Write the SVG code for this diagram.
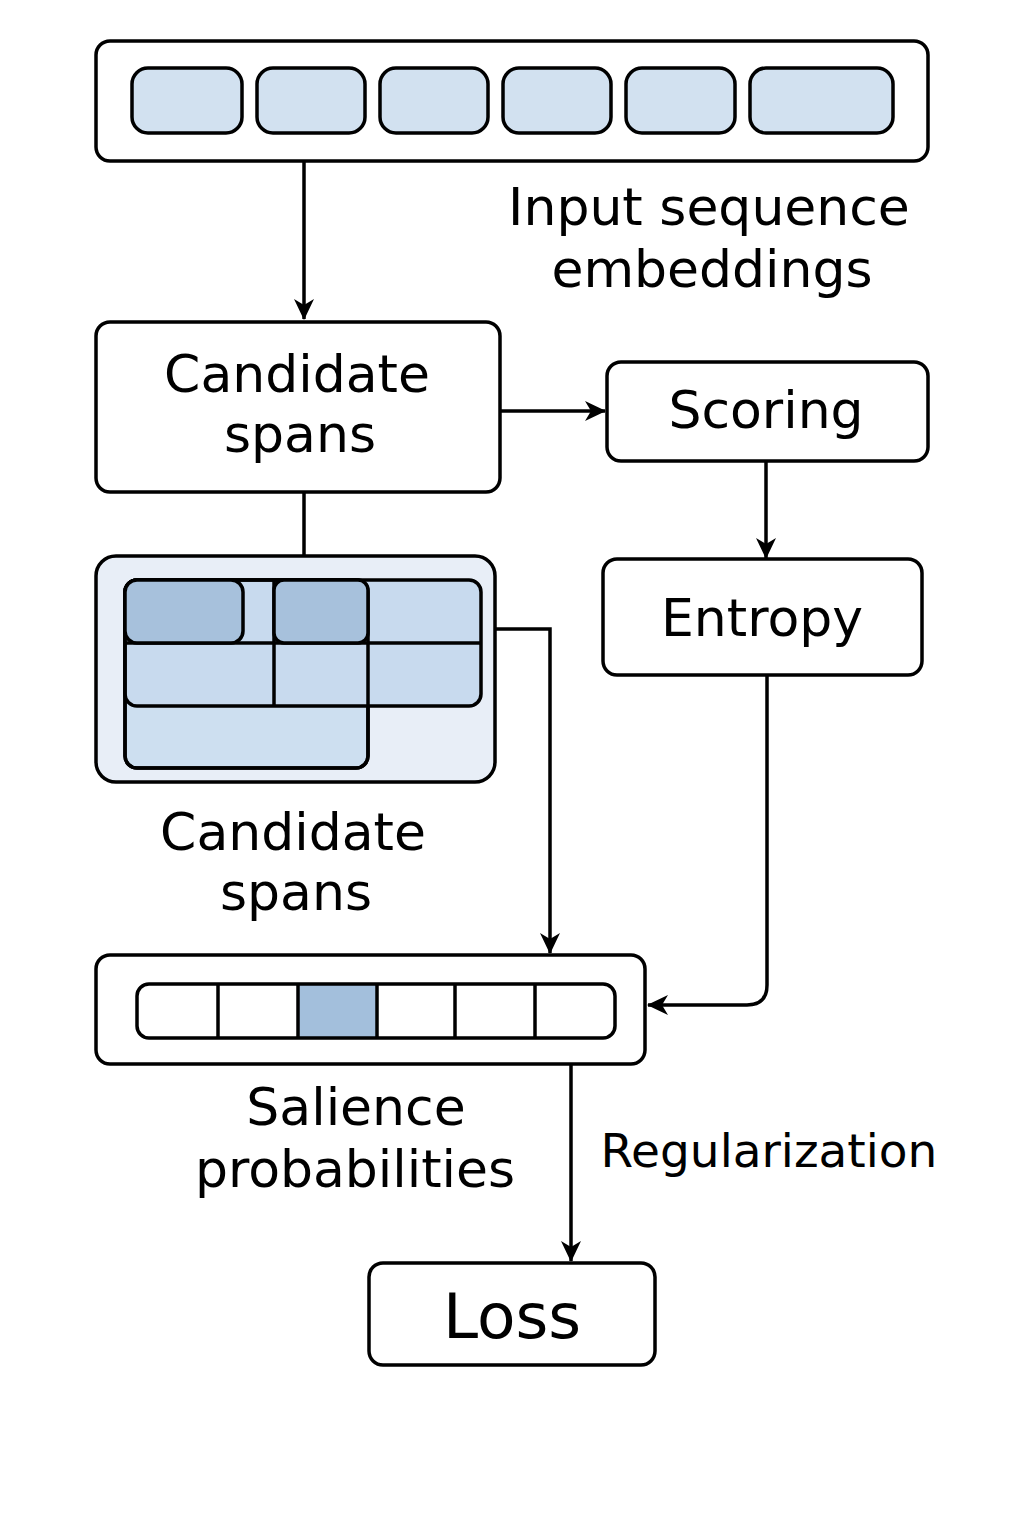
<svg xmlns="http://www.w3.org/2000/svg" width="1024" height="1536" viewBox="0 0 1024 1536">
<defs>
<marker id="ah" markerWidth="22" markerHeight="22" refX="20" refY="11" orient="auto" markerUnits="userSpaceOnUse" viewBox="0 0 22 22">
<path d="M0,1 L21,11 L0,21 L6,11 Z" fill="#000"/>
</marker>
<style>
.box{fill:#fff;stroke:#000;stroke-width:3.5}
.cell{fill:#d2e1f0;stroke:#000;stroke-width:3.5}
.dk{fill:#a7c1dc;stroke:#000;stroke-width:3.5}
.ln{fill:none;stroke:#000;stroke-width:3.5}
.t{font-family:"DejaVu Sans",sans-serif;font-size:52px;fill:#000;text-anchor:middle}
</style>
</defs>
<rect width="1024" height="1536" fill="#fff"/>
<g id="connectors">
<line class="ln" x1="304" y1="161" x2="304" y2="319" marker-end="url(#ah)"/>
<line class="ln" x1="500" y1="411" x2="605" y2="411" marker-end="url(#ah)"/>
<line class="ln" x1="766" y1="461" x2="766" y2="558" marker-end="url(#ah)"/>
<line class="ln" x1="304" y1="492" x2="304" y2="556"/>
<path class="ln" d="M495,629 H550 V953" marker-end="url(#ah)"/>
<path class="ln" d="M767,675 V985 Q767,1005 747,1005 H648" marker-end="url(#ah)"/>
<line class="ln" x1="571" y1="1064" x2="571" y2="1261" marker-end="url(#ah)"/>
</g>
<g id="input">
<rect class="box" x="96" y="41" width="832" height="120" rx="14"/>
<rect class="cell" x="132" y="68" width="110" height="65" rx="16"/>
<rect class="cell" x="257" y="68" width="108" height="65" rx="16"/>
<rect class="cell" x="380" y="68" width="108" height="65" rx="16"/>
<rect class="cell" x="503" y="68" width="108" height="65" rx="16"/>
<rect class="cell" x="626" y="68" width="109" height="65" rx="16"/>
<rect class="cell" x="750" y="68" width="143" height="65" rx="16"/>
</g>
<g id="input-label">
<text class="t" x="709" y="225">Input sequence</text>
<text class="t" x="712" y="287">embeddings</text>
</g>
<g id="candidate">
<rect class="box" x="96" y="322" width="404" height="170" rx="14"/>
<text class="t" x="297" y="392">Candidate</text>
<text class="t" x="300" y="452">spans</text>
</g>
<g id="scoring">
<rect class="box" x="607" y="362" width="321" height="99" rx="14"/>
<text class="t" x="766" y="428">Scoring</text>
</g>
<g id="entropy">
<rect class="box" x="603" y="559" width="319" height="116" rx="14"/>
<text class="t" x="762" y="636">Entropy</text>
</g>
<g id="spans">
<rect x="96" y="556" width="399" height="226" rx="20" fill="#e8eef7" stroke="#000" stroke-width="3.5"/>
<rect x="125" y="580" width="243" height="188" rx="12" fill="#cddff0" stroke="#000" stroke-width="3.5"/>
<rect x="125" y="580" width="356" height="126" rx="12" fill="#c8daee" stroke="#000" stroke-width="3.5"/>
<rect class="ln" x="125" y="580" width="243" height="188" rx="12"/>
<line class="ln" x1="274" y1="580" x2="274" y2="706"/>
<line class="ln" x1="125" y1="643" x2="481" y2="643"/>
<rect class="dk" x="125" y="580" width="118" height="63" rx="12"/>
<rect class="dk" x="274" y="580" width="94" height="63" rx="10"/>
</g>
<g id="spans-label">
<text class="t" x="293" y="850">Candidate</text>
<text class="t" x="296" y="910">spans</text>
</g>
<g id="salience">
<rect class="box" x="96" y="955" width="549" height="109" rx="14"/>
<rect x="298" y="984" width="79" height="54" fill="#a3bfdc"/>
<rect class="ln" x="137" y="984" width="478" height="54" rx="12"/>
<line class="ln" x1="218" y1="984" x2="218" y2="1038"/>
<line class="ln" x1="298" y1="984" x2="298" y2="1038"/>
<line class="ln" x1="377" y1="984" x2="377" y2="1038"/>
<line class="ln" x1="455" y1="984" x2="455" y2="1038"/>
<line class="ln" x1="535" y1="984" x2="535" y2="1038"/>
</g>
<g id="salience-label">
<text class="t" x="356" y="1125">Salience</text>
<text class="t" x="355" y="1187">probabilities</text>
</g>
<g id="reg-label">
<text class="t" x="769" y="1167" style="font-size:47px">Regularization</text>
</g>
<g id="loss">
<rect class="box" x="369" y="1263" width="286" height="102" rx="14"/>
<text class="t" x="512" y="1338" style="font-size:63px">Loss</text>
</g>
</svg>
